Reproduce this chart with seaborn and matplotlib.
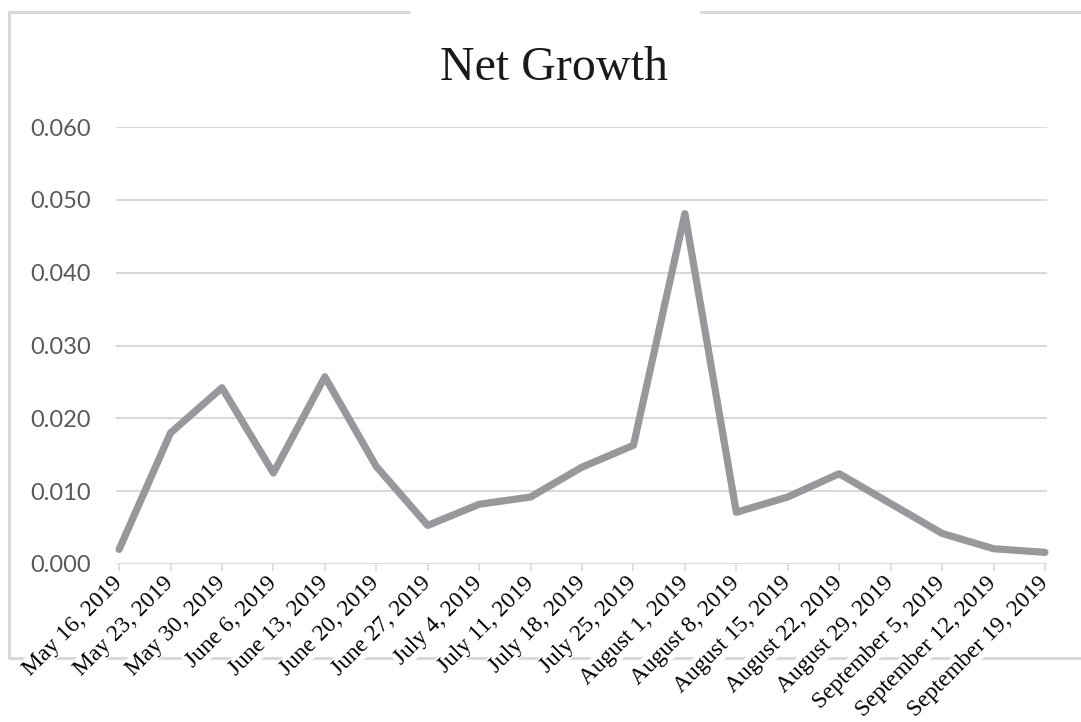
import matplotlib
matplotlib.use("Agg")
import matplotlib.pyplot as plt
from matplotlib.lines import Line2D
import seaborn as sns
import pandas as pd

dates = ["May 16, 2019", "May 23, 2019", "May 30, 2019", "June 6, 2019",
         "June 13, 2019", "June 20, 2019", "June 27, 2019", "July 4, 2019",
         "July 11, 2019", "July 18, 2019", "July 25, 2019", "August 1, 2019",
         "August 8, 2019", "August 15, 2019", "August 22, 2019", "August 29, 2019",
         "September 5, 2019", "September 12, 2019", "September 19, 2019"]
net_growth = [0.0020, 0.0180, 0.0242, 0.0125, 0.0257, 0.0134, 0.0053, 0.0082,
              0.0092, 0.0133, 0.0163, 0.0481, 0.0071, 0.0092, 0.0124, 0.0083,
              0.0042, 0.0021, 0.0016]
yticks = [0.0, 0.01, 0.02, 0.03, 0.04, 0.05, 0.06]
ytick_labels = ["0.000", "0.010", "0.020", "0.030", "0.040", "0.050", "0.060"]
title = "Net Growth"

sns.set_theme(style="whitegrid")
plt.rcParams["font.family"] = ["Liberation Serif", "DejaVu Serif"]

W, H = 1081, 722
fig = plt.figure(figsize=(W / 100, H / 100), dpi=100)
ax = fig.add_axes([116 / W, 1 - 564 / H, (1047 - 116) / W, (564 - 127) / H])
ax.set_facecolor("none")

df = pd.DataFrame({"idx": range(len(dates)), "net": net_growth})
sns.lineplot(data=df, x="idx", y="net", ax=ax, color="#97989b", linewidth=5.2,
             solid_capstyle="round", solid_joinstyle="round", clip_on=False, zorder=3)

ax.set_xlim(-0.06, len(dates) - 1 + 0.04)
ax.set_ylim(0, 0.06)
ax.set_yticks(yticks)
ax.set_yticklabels(ytick_labels, fontsize=17, family="Lato", color="#595959")
ax.set_xticks(range(len(dates)))
ax.set_xticklabels(dates, rotation=45, ha="right", va="center", rotation_mode="anchor",
                   fontsize=16.9, family="Liberation Serif", color="black",
                   bbox=dict(facecolor="white", edgecolor="none", pad=0.6))
ax.set_xlabel("")
ax.set_ylabel("")
ax.grid(axis="y", color="#d9d9d9", linewidth=1.5)
ax.grid(axis="x", visible=False)
for s in ax.spines.values():
    s.set_visible(False)
ax.tick_params(axis="y", length=0, pad=18)
ax.tick_params(axis="x", length=5, width=1.2, color="#d9d9d9", pad=6.5, bottom=True)
ax.xaxis.set_zorder(1)
ax.yaxis.set_zorder(0.5)

fig.text(554 / W, 1 - 80 / H, title, ha="center", va="baseline", fontsize=34.5,
         family="Liberation Serif", color="#1a1a1a")

border = dict(color="#d9d9d9", linewidth=2.2, transform=fig.transFigure, zorder=-1)
fig.add_artist(Line2D([9 / W, 409 / W], [1 - 12 / H, 1 - 12 / H], **border))
fig.add_artist(Line2D([701 / W, 1.0], [1 - 12 / H, 1 - 12 / H], **border))
fig.add_artist(Line2D([9 / W, 9 / W], [1 - 12 / H, 1 - 658 / H], **border))
fig.add_artist(Line2D([9 / W, 1.0], [1 - 658 / H, 1 - 658 / H], **border))

fig.savefig("out.png", dpi=100, facecolor="white")
